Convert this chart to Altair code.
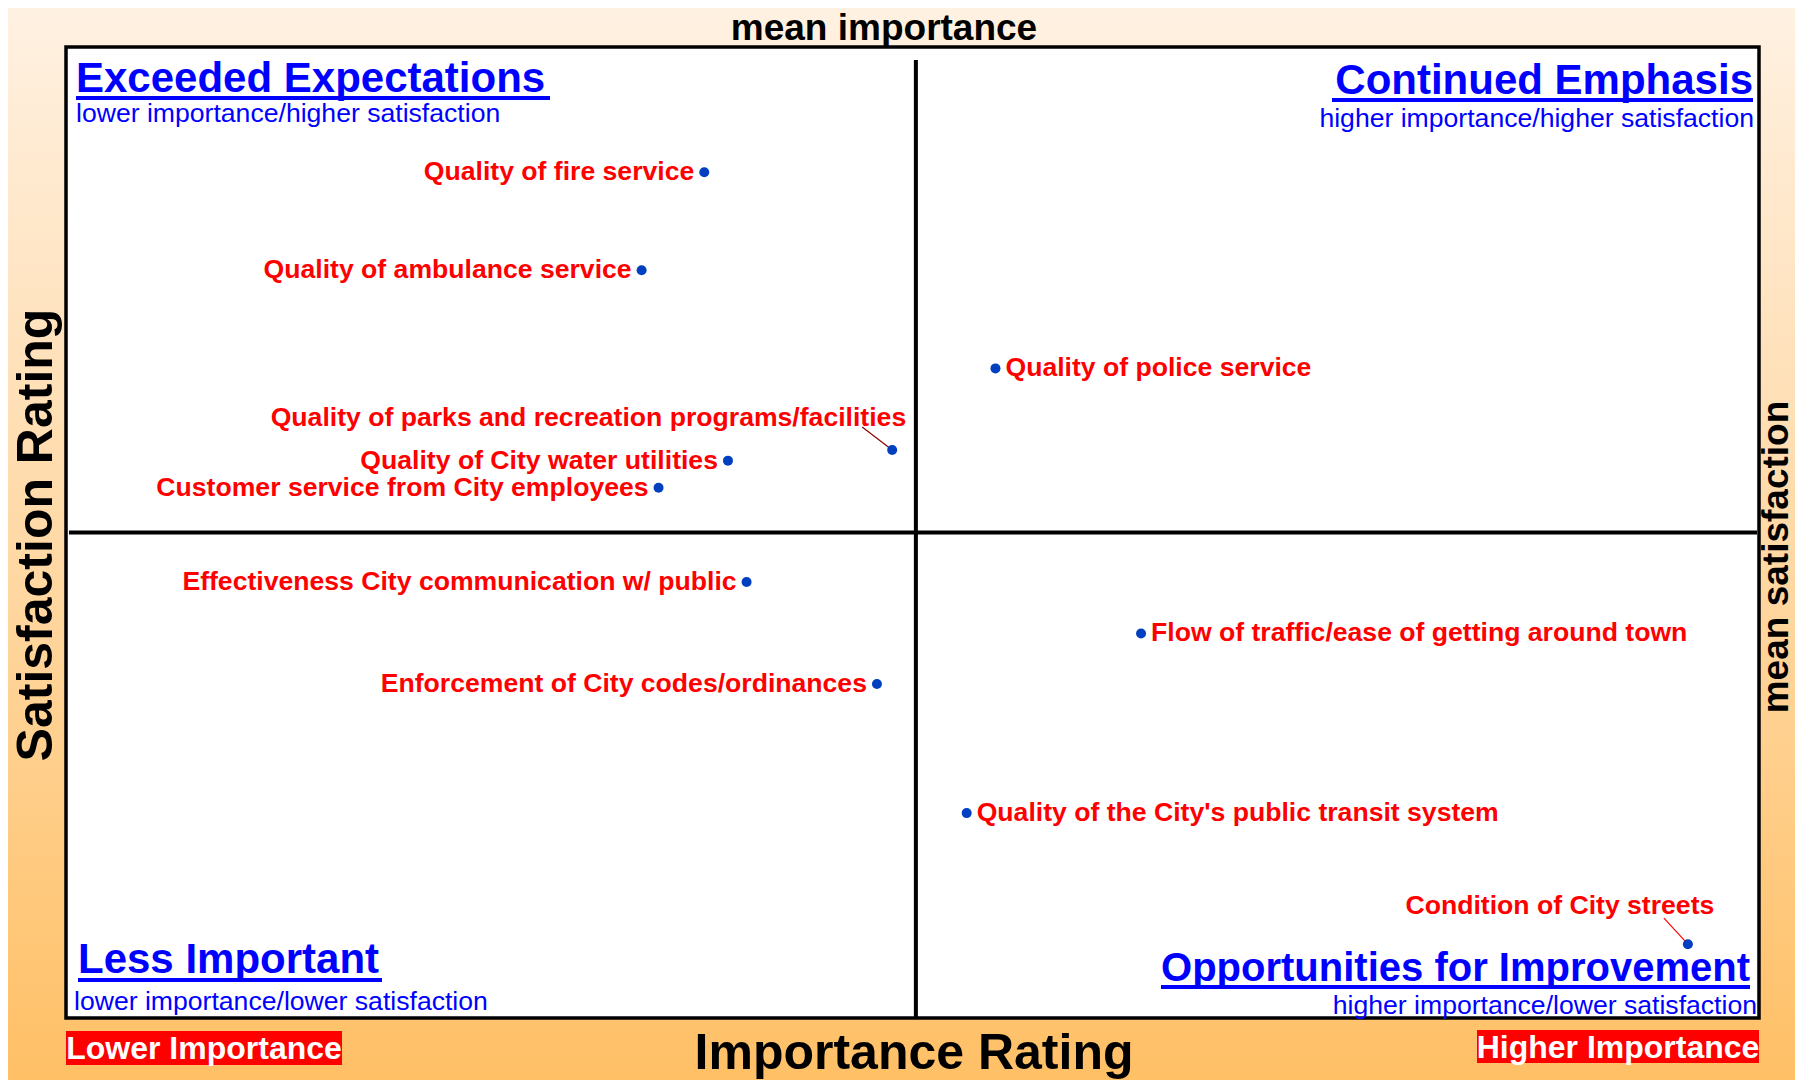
import altair as alt
import pandas as pd

# ---- data (arbitrary 0-100 rating units) ----
names = [
    "Quality of fire service",
    "Quality of ambulance service",
    "Quality of police service",
    "Quality of parks and recreation programs/facilities",
    "Quality of City water utilities",
    "Customer service from City employees",
    "Effectiveness City communication w/ public",
    "Enforcement of City codes/ordinances",
    "Flow of traffic/ease of getting around town",
    "Quality of the City's public transit system",
    "Condition of City streets",
]
importance = [37.7, 34.0, 54.9, 48.8, 39.1, 35.0, 40.2, 47.9, 63.5, 53.2, 95.8]
satisfaction = [87.1, 77.0, 66.9, 58.5, 57.4, 54.6, 44.9, 34.4, 39.6, 21.1, 7.6]
mean_importance = [50.2]
mean_satisfaction = [50.0]

right_labels = ["Quality of police service",
                "Flow of traffic/ease of getting around town",
                "Quality of the City's public transit system"]
leader_labels = ["Quality of parks and recreation programs/facilities",
                 "Condition of City streets"]

df = pd.DataFrame({"name": names, "importance": importance, "satisfaction": satisfaction})
means = pd.DataFrame({"mi": mean_importance, "ms": mean_satisfaction})

W, H = 1693, 971
PL, PT, PR, PB = 58, 39, 36, 62
FONT = "Liberation Sans"

xs = alt.Scale(domain=[0, 100], nice=False, zero=False)
ys = alt.Scale(domain=[0, 100], nice=False, zero=False)
X = alt.X("importance:Q", scale=xs, axis=None)
Y = alt.Y("satisfaction:Q", scale=ys, axis=None)

base = alt.Chart(df)
one = alt.Chart(means)

bg = one.mark_rect(
    color=alt.Gradient(gradient="linear", x1=0, y1=0, x2=0, y2=1,
                       stops=[alt.GradientStop(color="#FFF1E2", offset=0),
                              alt.GradientStop(color="#FFD9A6", offset=0.5),
                              alt.GradientStop(color="#FFC066", offset=1)])
).encode(x=alt.value(-PL), x2=alt.value(W + PR), y=alt.value(-PT), y2=alt.value(H + PB))

plotbox = one.mark_rect(fill="white", stroke="black", strokeWidth=3.5).encode(
    x=alt.value(0), x2=alt.value(W), y=alt.value(0), y2=alt.value(H))

vline = one.mark_rule(color="black", strokeWidth=4).encode(
    x=alt.X("mi:Q", scale=xs, axis=None), y=alt.value(13), y2=alt.value(H))
hline = one.mark_rule(color="black", strokeWidth=4).encode(
    y=alt.Y("ms:Q", scale=ys, axis=None), x=alt.value(3), x2=alt.value(W - 2))

is_right = alt.FieldOneOfPredicate(field="name", oneOf=right_labels)
is_leader = alt.FieldOneOfPredicate(field="name", oneOf=leader_labels)
is_left = {"not": {"or": [is_right, is_leader]}}

lbl = dict(font=FONT, fontSize=26.6, fontWeight="bold", color="#FF0000", baseline="middle")

left_txt = base.transform_filter(is_left).mark_text(align="right", dx=-10, **lbl).encode(x=X, y=Y, text="name:N")
right_txt = base.transform_filter(is_right).mark_text(align="left", dx=10, **lbl).encode(x=X, y=Y, text="name:N")

parks = alt.FieldEqualPredicate(field="name", equal=leader_labels[0])
streets = alt.FieldEqualPredicate(field="name", equal=leader_labels[1])
parks_txt = base.transform_filter(parks).mark_text(align="right", dx=14, dy=-32, **lbl).encode(x=X, y=Y, text="name:N")
streets_txt = base.transform_filter(streets).mark_text(align="center", dx=-128, dy=-38, **lbl).encode(x=X, y=Y, text="name:N")
parks_line = base.transform_filter(parks).mark_rule(color="#8B0000", strokeWidth=1.2, xOffset=-30, yOffset=-23).encode(
    x=X, y=Y, x2="importance:Q", y2="satisfaction:Q")
streets_line = base.transform_filter(streets).mark_rule(color="#FF0000", strokeWidth=1.2, xOffset=-24, yOffset=-26).encode(
    x=X, y=Y, x2="importance:Q", y2="satisfaction:Q")

dots = base.mark_circle(size=100, color="#0040C0", opacity=1).encode(x=X, y=Y)

def txt(text, px, py, size, weight="bold", color="black", align="center", baseline="middle", angle=None):
    kw = dict(text=text, font=FONT, fontSize=size, fontWeight=weight, color=color,
              align=align, baseline=baseline)
    if angle is not None:
        kw["angle"] = angle
    return one.mark_text(**kw).encode(x=alt.value(px), y=alt.value(py))

def uline(x1, x2, py):
    return one.mark_rule(color="#0000FF", strokeWidth=4).encode(
        x=alt.value(x1), x2=alt.value(x2), y=alt.value(py))

BLUE = "#0000FF"
annotations = [
    txt("mean importance", 818, -18, 37),
    txt("Importance Rating", 848, 1022, 50, baseline="alphabetic"),
    txt("Satisfaction Rating", -29, 488, 50, angle=270),
    txt("mean satisfaction", 1722, 510, 37, angle=270, baseline="alphabetic"),
    # quadrant titles
    txt("Exceeded Expectations", 10, 45, 42, color=BLUE, align="left", baseline="alphabetic"),
    uline(10, 484, 51),
    txt("lower importance/higher satisfaction", 10, 75, 26.6, weight="normal", color=BLUE, align="left", baseline="alphabetic"),
    txt("Continued Emphasis", 1687, 47, 42, color=BLUE, align="right", baseline="alphabetic"),
    uline(1266, 1687, 53),
    txt("higher importance/higher satisfaction", 1688, 80, 26.6, weight="normal", color=BLUE, align="right", baseline="alphabetic"),
    txt("Less Important", 12, 926, 42, color=BLUE, align="left", baseline="alphabetic"),
    uline(12, 316, 933),
    txt("lower importance/lower satisfaction", 8, 963, 26.6, weight="normal", color=BLUE, align="left", baseline="alphabetic"),
    txt("Opportunities for Improvement", 1684, 934, 40, color=BLUE, align="right", baseline="alphabetic"),
    uline(1095, 1684, 940),
    txt("higher importance/lower satisfaction", 1691, 967, 26.6, weight="normal", color=BLUE, align="right", baseline="alphabetic"),
]

red_boxes = [
    one.mark_rect(color="#FF0000").encode(x=alt.value(0), x2=alt.value(276), y=alt.value(984), y2=alt.value(1018)),
    txt("Lower Importance", 138, 1002, 32, color="white"),
    one.mark_rect(color="#FF0000").encode(x=alt.value(1411), x2=alt.value(W), y=alt.value(983), y2=alt.value(1016)),
    txt("Higher Importance", 1552, 1001, 32, color="white"),
]

chart = alt.layer(
    bg, plotbox, vline, hline, parks_line, streets_line, dots,
    left_txt, right_txt, parks_txt, streets_txt, *annotations, *red_boxes
).properties(
    width=W, height=H,
    padding={"left": PL, "top": PT, "right": PR, "bottom": PB},
    autosize=alt.AutoSizeParams(type="none"),
    background="#FFE6C4",
).configure_view(stroke=None)

chart.save("out.html", embed_options={"renderer": "svg", "actions": False})
